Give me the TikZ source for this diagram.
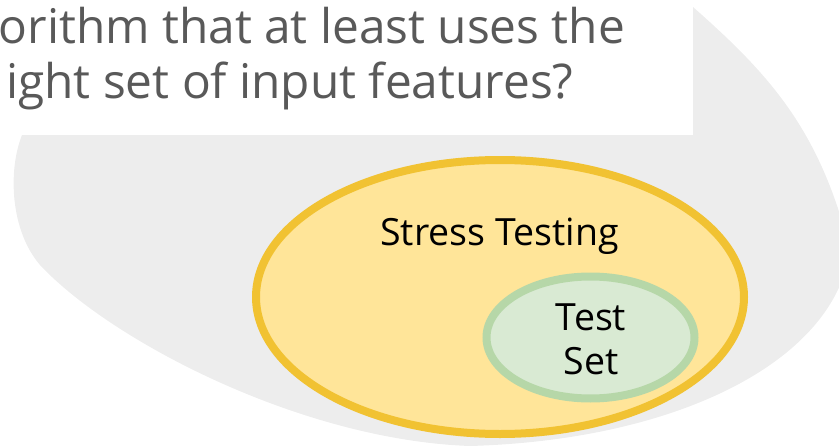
\documentclass[tikz,border=0pt]{standalone}
\usepackage{fontspec}
\setmainfont{Open Sans}
\usetikzlibrary{shapes.geometric}
\definecolor{blobgrey}{HTML}{EDEDED}
\definecolor{qgrey}{HTML}{595959}
\definecolor{stressfill}{HTML}{FFE599}
\definecolor{stressline}{HTML}{F1C232}
\definecolor{testfill}{HTML}{D9EAD3}
\definecolor{testline}{HTML}{B6D7A8}
\tikzset{
question/.style={anchor=base west,inner sep=0,text=qgrey,font=\fontsize{47.8}{55}\selectfont},
setlabel/.style={inner sep=0,text=black,font=\fontsize{37.5}{44}\selectfont},
setblob/.style={ellipse,line width=8pt,inner sep=0}
}
\begin{document}
\begin{tikzpicture}[x=1pt,y=-1pt]
\useasboundingbox (0,0) rectangle (839,447);
\begin{scope}
\clip (0,0) rectangle (839,447);
\fill[blobgrey] (693,7) .. controls (770,75) and (820,130) .. (850,250)
  .. controls (835,360) and (680,440) .. (470,446)
  .. controls (300,440) and (110,340) .. (40,265)
  .. controls (10,230) and (8,170) .. (22,135)
  -- (30,60) -- cycle;
\fill[white] (-5,-5) rectangle (693,135);
\end{scope}

\node[question] (q1) at (-1.5,43) {orithm that at least uses the};
\node[question] (q2) at (6,98) {ight set of input features?};

\node[setblob,draw=stressline,fill=stressfill,minimum width=488pt,minimum height=274pt] (stress) at (500,297) {};
\node[setlabel,anchor=base] (stresslabel) at (499.5,245) {Stress Testing};
\node[setblob,draw=testline,fill=testfill,minimum width=208pt,minimum height=122pt] (test) at (590.5,337.5) {};
\node[setlabel,align=center] (testlabel) at (591,339) {Test\\Set};
\end{tikzpicture}
\end{document}
